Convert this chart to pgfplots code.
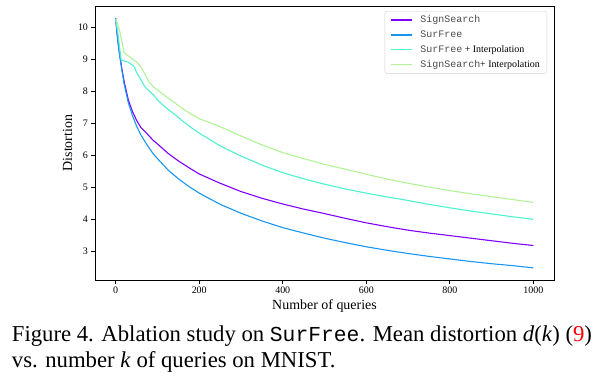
\documentclass[border=0pt]{standalone}
\usepackage{fontspec}
\setmainfont{Liberation Serif}
\setmonofont{Liberation Mono}
\usepackage{pgfplots}
\pgfplotsset{compat=1.18}
\usepackage{pgfplotstable}
\definecolor{cSign}{rgb}{0.5,0.0,1.0}
\definecolor{cSur}{rgb}{0.1,0.588,0.951}
\definecolor{cSurI}{rgb}{0.3,0.951,0.809}
\definecolor{cSignI}{rgb}{0.7,0.951,0.588}
\definecolor{monogray}{gray}{0.3}
\pgfplotstableread{
q d
0 10.25
5 9.6
10 9.1
15 8.7
20 8.33
30 7.75
40 7.38
50 7.10
60 6.88
75 6.68
90 6.47
100 6.36
125 6.07
150 5.83
175 5.62
200 5.42
250 5.13
300 4.87
350 4.66
400 4.48
450 4.32
500 4.18
550 4.03
600 3.89
650 3.77
700 3.66
750 3.57
800 3.49
850 3.41
900 3.33
950 3.25
1000 3.18
}\signsearch
\pgfplotstableread{
q d
0 10.3
5 9.6
10 9.1
15 8.65
20 8.25
30 7.66
40 7.25
50 6.92
60 6.65
75 6.33
90 6.05
100 5.9
125 5.55
150 5.27
175 5.03
200 4.82
250 4.47
300 4.19
350 3.95
400 3.74
450 3.57
500 3.41
550 3.27
600 3.14
650 3.03
700 2.93
750 2.84
800 2.76
850 2.68
900 2.61
950 2.55
1000 2.48
}\surfree
\pgfplotstableread{
q d
0 10.25
5 9.85
10 9.3
13 9.0
20 8.96
30 8.92
40 8.83
45 8.76
50 8.60
60 8.38
70 8.15
80 8.02
90 7.90
100 7.74
120 7.50
140 7.30
160 7.08
180 6.88
200 6.70
250 6.30
300 5.98
350 5.70
400 5.46
450 5.27
500 5.10
550 4.95
600 4.82
650 4.70
700 4.59
750 4.47
800 4.36
850 4.26
900 4.17
950 4.08
1000 4.00
}\surfreeinterp
\pgfplotstableread{
q d
0 10.27
5 10.1
10 9.87
15 9.55
20 9.22
30 9.12
40 9.02
50 8.93
60 8.78
70 8.55
80 8.30
90 8.15
100 8.05
120 7.85
140 7.66
160 7.47
180 7.30
200 7.15
225 7.03
250 6.90
300 6.61
350 6.33
400 6.09
450 5.90
500 5.72
550 5.57
600 5.41
650 5.26
700 5.13
750 5.01
800 4.90
850 4.80
900 4.71
950 4.62
1000 4.53
}\signsearchinterp
\begin{document}
\begin{tikzpicture}
\useasboundingbox (-95bp,-96bp) rectangle (517bp,280bp);
\begin{axis}[
  at={(0,0)}, anchor=south west,
  scale only axis, width=459bp, height=274bp,
  xmin=-49.6, xmax=1049.6, ymin=2.10, ymax=10.68,
  xtick={0,200,400,600,800,1000},
  ytick={3,4,5,6,7,8,9,10},
  tick align=outside, xtick pos=bottom, ytick pos=left,
  major tick length=3.5bp,
  axis line style={line width=0.9bp},
  every tick/.style={black, line width=0.8bp},
  /pgf/number format/assume math mode=true,
  /pgf/number format/1000 sep={},
  ticklabel style={font=\fontsize{10}{11}\selectfont},
  xlabel={Number of queries},
  ylabel={Distortion},
  label style={font=\fontsize{14}{16}\selectfont},
  xlabel style={yshift=1bp},
  ylabel style={yshift=-1bp},
  legend style={at={(1,1)}, anchor=north east, xshift=-7bp, yshift=-5bp,
    draw=black!18, rounded corners=2bp, fill=white,
    font=\fontsize{10}{12}\selectfont, row sep=2.4bp, column sep=6bp,
    inner xsep=5bp, inner ysep=2.5bp},
  legend cell align=left,
  legend image code/.code={\draw[#1, line width=1.6bp] (0bp,0bp) -- (21bp,0bp);},
  every axis plot/.append style={line width=1.1bp},
]
\addplot[color=cSign] table[x=q,y=d] {\signsearch};
\addlegendentry{\textcolor{monogray}{\texttt{SignSearch}}}
\addplot[color=cSur] table[x=q,y=d] {\surfree};
\addlegendentry{\textcolor{monogray}{\texttt{SurFree}}}
\addplot[color=cSurI] table[x=q,y=d] {\surfreeinterp};
\addlegendentry{\textcolor{monogray}{\texttt{SurFree}} + Interpolation}
\addplot[color=cSignI] table[x=q,y=d] {\signsearchinterp};
\addlegendentry{\textcolor{monogray}{\texttt{SignSearch}}+ Interpolation}
\end{axis}
\node[anchor=base west, inner sep=0pt, font=\fontsize{22.8}{25.7}\selectfont] at (-83.3bp,-61.3bp)
  {Figure 4. Ablation study on {\fontsize{21.4}{25.7}\selectfont\texttt{SurFree}}. Mean distortion \textit{d}(\textit{k}) ({\color{red}9})};
\node[anchor=base west, inner sep=0pt, font=\fontsize{22.8}{25.7}\selectfont] at (-83.3bp,-87bp)
  {vs. number \textit{k} of queries on MNIST.};
\end{tikzpicture}
\end{document}
